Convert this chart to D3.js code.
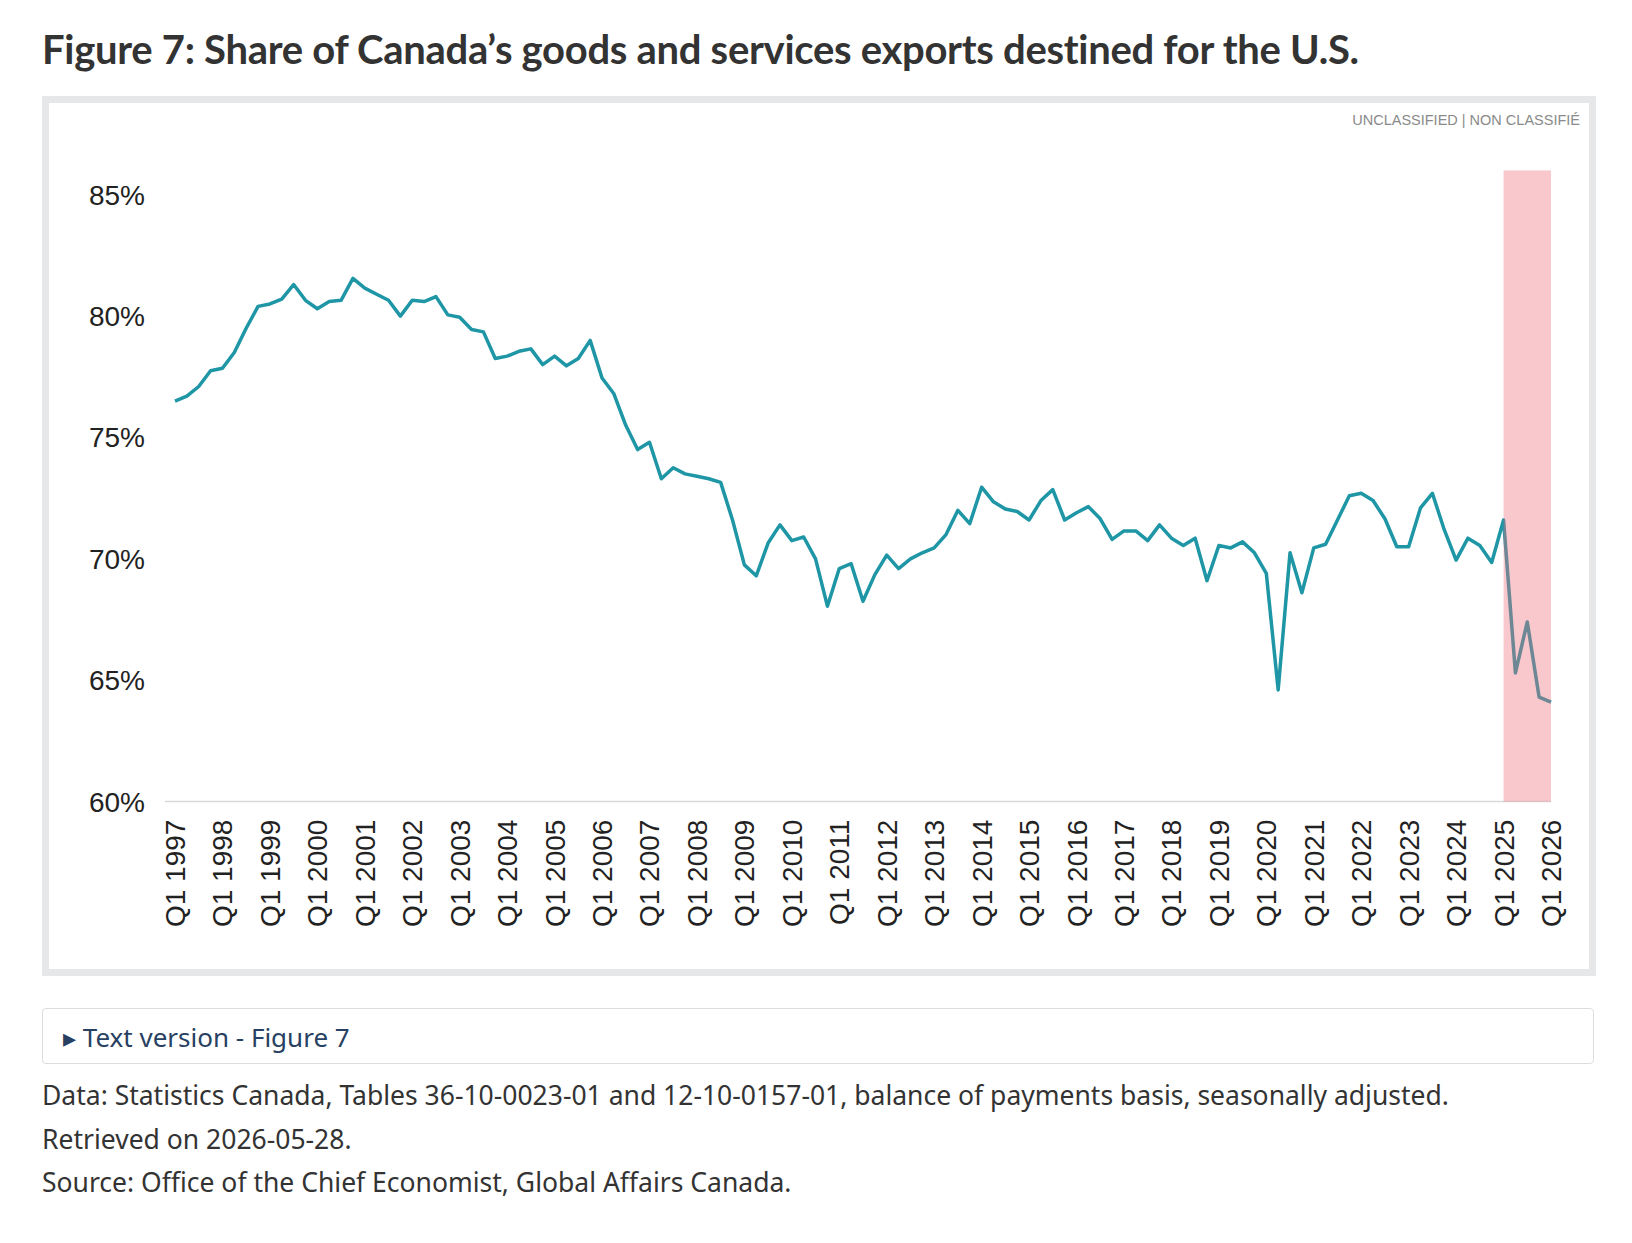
<!DOCTYPE html>
<html>
<head>
<meta charset="utf-8">
<script src="https://cdn.jsdelivr.net/npm/d3@7"></script>
<style>
  body { margin: 0; background: #fff; font-family: "Noto Sans", sans-serif; }
  .title { position: absolute; left: 42px; top: 25px; font: bold 40px Lato, sans-serif; color: #333; letter-spacing: -0.3px; }
  .panel { position: absolute; left: 42px; top: 96px; width: 1540px; height: 866px; border: 7px solid #e6e7e9; background: #fff; }
  .details { position: absolute; left: 42px; top: 1008px; width: 1552px; height: 56px; border: 1px solid #ddd; border-radius: 4px; box-sizing: border-box; }
  .details span { position: absolute; left: 20px; top: 10px; font-size: 26px; color: #284162; }
  .notes { position: absolute; left: 42px; top: 1074px; font-size: 26.5px; line-height: 43.5px; color: #333; }
</style>
</head>
<body>
<div class="title">Figure 7: Share of Canada’s goods and services exports destined for the U.S.</div>
<div class="panel"></div>
<svg id="chart" width="1632" height="1000" style="position:absolute;left:0;top:0"></svg>
<div class="details"><span>▸ Text version - Figure 7</span></div>
<div class="notes">Data: Statistics Canada, Tables 36-10-0023-01 and 12-10-0157-01, balance of payments basis, seasonally adjusted.<br>Retrieved on 2026-05-28.<br>Source: Office of the Chief Economist, Global Affairs Canada.</div>
<script>
const startYear = 1997;
const shareUS = [
  76.5, 76.7, 77.1, 77.75, 77.85, 78.5, 79.5, 80.4, 80.5, 80.7,
  81.3, 80.65, 80.3, 80.6, 80.65, 81.55, 81.15, 80.9, 80.65, 80.0,
  80.65, 80.6, 80.8, 80.05, 79.95, 79.45, 79.35, 78.25, 78.35, 78.55,
  78.65, 78.0, 78.35, 77.95, 78.25, 79.0, 77.45, 76.8, 75.5, 74.5,
  74.8, 73.3, 73.75, 73.5, 73.4, 73.3, 73.15, 71.6, 69.75, 69.3,
  70.65, 71.4, 70.75, 70.9, 70.0, 68.05, 69.6, 69.8, 68.25, 69.35,
  70.15, 69.6, 70.0, 70.25, 70.45, 71.0, 72.0, 71.45, 72.95, 72.35,
  72.05, 71.95, 71.6, 72.4, 72.85, 71.6, 71.9, 72.15, 71.65, 70.8,
  71.15, 71.15, 70.75, 71.4, 70.85, 70.55, 70.85, 69.1, 70.55, 70.45,
  70.7, 70.25, 69.4, 64.6, 70.25, 68.6, 70.45, 70.6, 71.6, 72.6,
  72.7, 72.4, 71.65, 70.5, 70.5, 72.1, 72.7, 71.2, 69.95, 70.85,
  70.55, 69.85, 71.6, 65.3, 67.4, 64.3, 64.1
];
const yTicks = [60, 65, 70, 75, 80, 85];
const highlightStart = 112; // Q1 2025
const highlightTop = 86;

const quarters = shareUS.map((v, i) => `Q${i % 4 + 1} ${startYear + Math.floor(i / 4)}`);

const svg = d3.select("#chart");
const x = d3.scaleLinear().domain([0, shareUS.length - 1]).range([175, 1551]);
const y = d3.scaleLinear().domain([60, 85]).range([801.6, 194.7]);

svg.append("text")
  .attr("x", 1580).attr("y", 125)
  .attr("text-anchor", "end")
  .style("font", "14.5px 'Liberation Sans', Arial, sans-serif")
  .style("fill", "#8a8a8a")
  .text("UNCLASSIFIED | NON CLASSIFIÉ");

// y axis labels
svg.append("g").selectAll("text")
  .data(yTicks).enter().append("text")
  .attr("x", 145).attr("y", d => y(d) + 10)
  .attr("text-anchor", "end")
  .style("font", "28px 'Liberation Sans', Arial, sans-serif")
  .style("fill", "#222")
  .text(d => d + "%");

// baseline
svg.append("line")
  .attr("x1", 165).attr("x2", 1551)
  .attr("y1", y(60)).attr("y2", y(60))
  .attr("stroke", "#d9d9d9").attr("stroke-width", 1.5);

// x labels every Q1
svg.append("g").selectAll("text")
  .data(quarters.map((q, i) => ({ q, i })).filter(d => d.i % 4 === 0))
  .enter().append("text")
  .attr("transform", d => `translate(${x(d.i) + 10}, ${y(60) + 18}) rotate(-90)`)
  .attr("text-anchor", "end")
  .style("font", "28px 'Liberation Sans', Arial, sans-serif")
  .style("fill", "#222")
  .text(d => d.q);

const line = d3.line().x((d, i) => x(i)).y(d => y(d));
svg.append("path")
  .datum(shareUS)
  .attr("fill", "none")
  .attr("stroke", "#1e96a6")
  .attr("stroke-width", 3.5)
  .attr("stroke-linejoin", "round")
  .attr("d", line);

// highlight band over the latest quarters
svg.append("rect")
  .attr("x", x(highlightStart))
  .attr("y", y(highlightTop))
  .attr("width", x(shareUS.length - 1) - x(highlightStart))
  .attr("height", y(60) - y(highlightTop))
  .attr("fill", "rgb(240,110,120)")
  .attr("opacity", 0.38);
</script>
</body>
</html>
